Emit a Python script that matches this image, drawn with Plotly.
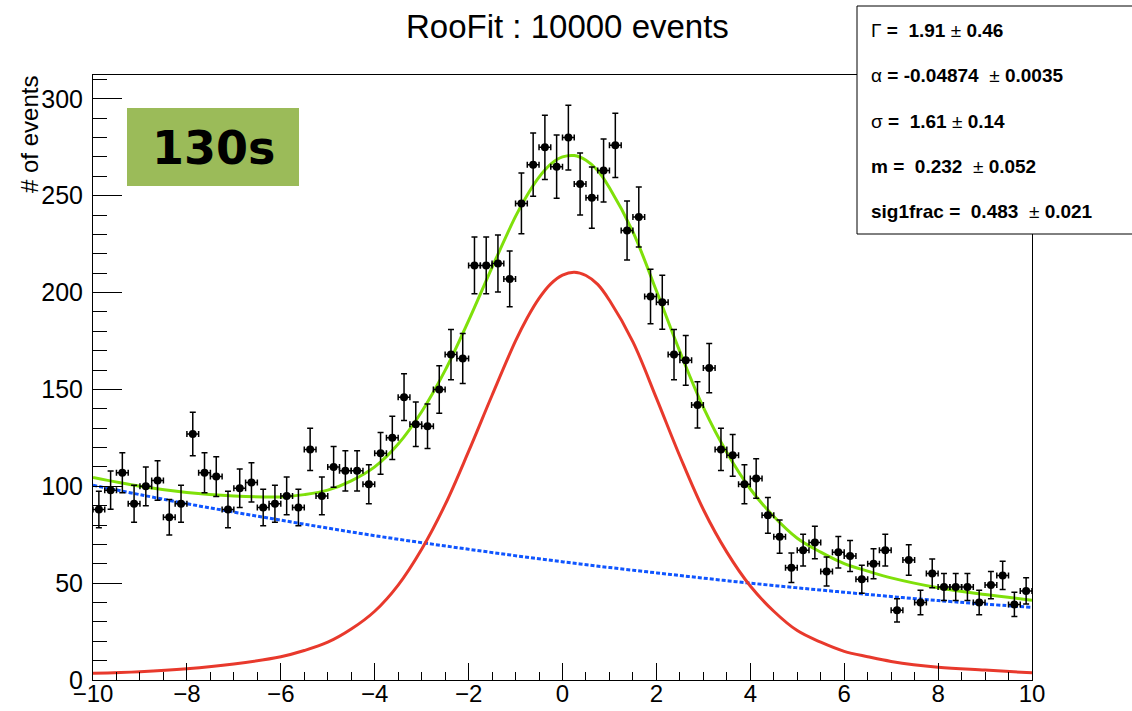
import numpy as np
import plotly.graph_objects as go

# ---------------- data ----------------
bin_lo, bin_hi, n_bins = -10.0, 10.0, 80
counts = [88, 98, 107, 91, 100, 103, 84, 91, 127, 107,
          105, 88, 99, 102, 89, 91, 95, 89, 119, 95,
          110, 108, 108, 101, 117, 125, 146, 132, 131, 150,
          168, 166, 214, 214, 215, 207, 246, 266, 275, 265,
          280, 256, 249, 263, 276, 232, 239, 198, 195, 168,
          165, 142, 161, 119, 116, 101, 104, 85, 74, 58,
          67, 71, 56, 66, 64, 52, 60, 67, 36, 62,
          40, 55, 48, 48, 48, 40, 49, 54, 39, 46]

curve_x = [-10, -9, -8, -7, -6, -5.5, -5, -4.5, -4, -3.5, -3, -2.5, -2, -1.5, -1,
           -0.75, -0.5, -0.25, 0, 0.25, 0.5, 0.75, 1,
           1.5, 2, 2.5, 3, 3.5, 4, 4.5, 5, 5.5, 6, 6.5, 7, 8, 9, 10]
signal_y = [3.5, 4.3, 5.8, 8.3, 12.0, 15.2, 19.5, 26.3, 35.5, 49.0, 67.5, 90.5, 118.0, 147.0, 175.0,
            187.0, 197.0, 204.5, 209.0, 210.5, 208.8, 204.2, 196.0,
            174.5, 145.5, 115.5, 88.0, 66.0, 48.5, 35.5, 25.5, 19.5, 14.8, 12.0, 9.6, 6.6, 5.1, 3.7]
total_y = [104.5, 100.0, 96.8, 95.0, 94.5, 95.7, 98.0, 102.8, 110.0, 121.8, 138.5, 159.8, 185.5, 213.0, 239.3,
           250.4, 259.6, 266.3, 270.0, 270.7, 268.3, 263.0, 254.1,
           231.3, 200.9, 169.5, 140.7, 117.4, 98.6, 84.4, 73.2, 66.0, 60.1, 56.2, 52.7, 47.6, 44.1, 41.2]
bkg_x = [-10, -8, -6, -4, -2, 0, 2, 4, 6, 8, 10]
bkg_y = [100.5, 91.0, 82.5, 74.5, 67.5, 61.0, 55.3, 50.0, 45.3, 41.0, 37.5]

title_text = "RooFit : 10000 events"
ytitle_text = "# of events"
badge_text = "130s"
stat_lines = ["Γ <b>=&nbsp; 1.91</b> ± <b>0.46</b>",
              "α <b>= -0.04874</b>&nbsp; ± <b>0.0035</b>",
              "σ <b>=&nbsp; 1.61</b> ± <b>0.14</b>",
              "<b>m =&nbsp; 0.232</b>&nbsp; ± <b>0.052</b>",
              "<b>sig1frac =&nbsp; 0.483</b>&nbsp; ± <b>0.021</b>"]

# ---------------- layout geometry ----------------
W, H = 1132, 711
L, R, T, B = 93, 100, 75, 31
PW, PH = W - L - R, H - T - B
y_top = 312.3

def px(xp):
    return (xp - L) / PW

def py(yp):
    return (H - B - yp) / PH

FONT = "Liberation Sans, Arial, Helvetica, sans-serif"

width = (bin_hi - bin_lo) / n_bins
centers = bin_lo + width * (np.arange(n_bins) + 0.5)
counts_arr = np.array(counts, dtype=float)
errs = np.sqrt(counts_arr)

fig = go.Figure()

fig.add_trace(go.Scatter(x=bkg_x, y=bkg_y, mode="lines",
                         line=dict(color="#0f55ff", width=3, dash="4px,2px", shape="spline"), showlegend=False))
fig.add_trace(go.Scatter(x=curve_x, y=signal_y, mode="lines",
                         line=dict(color="#e8392c", width=3, shape="spline"), showlegend=False))
fig.add_trace(go.Scatter(x=curve_x, y=total_y, mode="lines",
                         line=dict(color="#7fe00a", width=3, shape="spline"), showlegend=False))

fig.add_trace(go.Scatter(
    x=centers, y=counts_arr, mode="markers",
    marker=dict(color="black", size=8),
    error_y=dict(type="data", array=errs, color="black", thickness=1.5, width=3),
    error_x=dict(type="constant", value=width / 2, color="black", thickness=1.5, width=3),
    showlegend=False))

fig.update_layout(
    width=W, height=H,
    margin=dict(l=L, r=R, t=T, b=B, autoexpand=False),
    paper_bgcolor="white", plot_bgcolor="white",
    font=dict(family=FONT, color="black"),
    xaxis=dict(range=[bin_lo, bin_hi], dtick=2, ticks="inside", ticklen=17, tickwidth=1, tickcolor="black",
               showline=True, linecolor="black", linewidth=1, mirror=True, showgrid=False, zeroline=False,
               tickfont=dict(size=24, family=FONT), automargin=False, ticklabelstandoff=-8,
               minor=dict(dtick=0.5, ticks="inside", ticklen=8, tickcolor="black", showgrid=False)),
    yaxis=dict(range=[0, y_top], dtick=50, ticks="inside", ticklen=29, tickwidth=1, tickcolor="black",
               showline=True, linecolor="black", linewidth=1, mirror=True, showgrid=False, zeroline=False,
               tickfont=dict(size=25, family=FONT), automargin=False, ticklabelstandoff=4,
               minor=dict(dtick=10, ticks="inside", ticklen=14, tickcolor="black", showgrid=False)),
)

annotations = [
    dict(text=title_text, xref="paper", yref="paper", x=px(567), y=py(26), showarrow=False,
         font=dict(size=33, family=FONT), xanchor="center", yanchor="middle"),
    dict(text=ytitle_text, xref="paper", yref="paper", x=px(29), y=py(135), showarrow=False,
         textangle=-90, font=dict(size=24, family=FONT), xanchor="center", yanchor="middle"),
    dict(text="<b>" + badge_text + "</b>", xref="paper", yref="paper", x=px(213), y=py(148), showarrow=False,
         font=dict(size=46, family="DejaVu Sans, Verdana, sans-serif", color="black"),
         xanchor="center", yanchor="middle"),
]
line_y = [30, 76, 121, 166, 211]
for txt, yy in zip(stat_lines, line_y):
    annotations.append(dict(text=txt, xref="paper", yref="paper", x=px(869), y=py(yy), showarrow=False,
                            font=dict(size=19, family=FONT), xanchor="left", yanchor="middle"))
fig.update_layout(annotations=annotations)

fig.add_shape(type="rect", xref="paper", yref="paper", x0=px(127), x1=px(299), y0=py(186), y1=py(108),
              fillcolor="#9bbb59", line=dict(width=0), layer="above")
fig.add_shape(type="rect", xref="paper", yref="paper", x0=px(857), x1=px(1140), y0=py(234), y1=py(6),
              fillcolor="white", line=dict(color="black", width=1), layer="above")

fig.write_html("out.html", config={"displayModeBar": False},
               post_script="document.body.style.margin='0';document.body.style.overflow='hidden';")
